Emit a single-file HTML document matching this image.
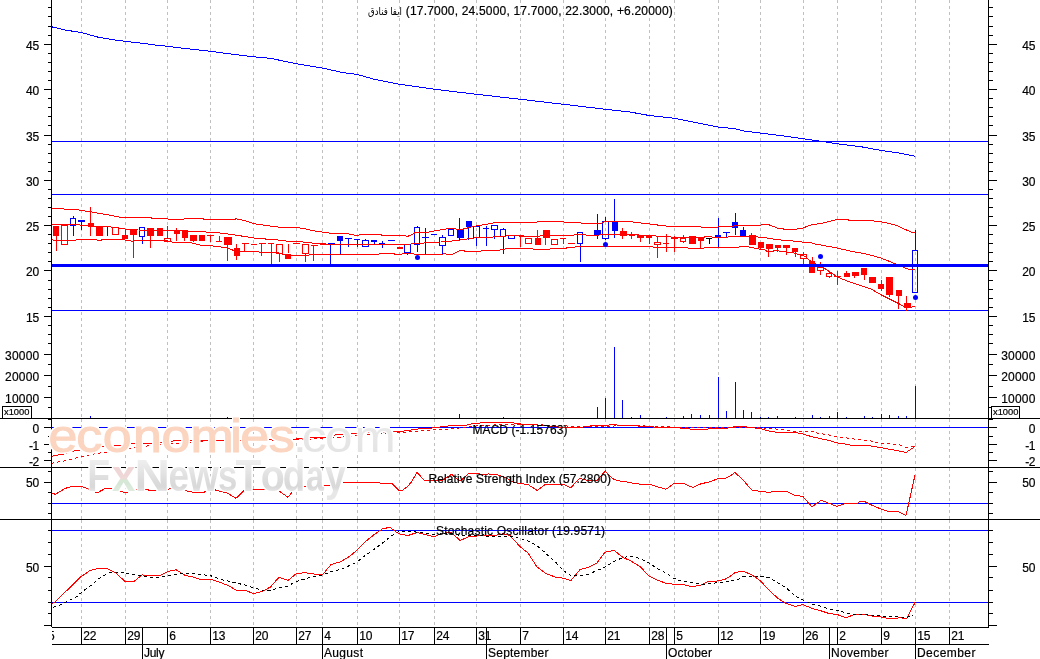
<!DOCTYPE html>
<html><head><meta charset="utf-8"><title>Chart</title>
<style>
html,body{margin:0;padding:0;background:#fff;}
body{width:1040px;height:659px;overflow:hidden;}
svg{display:block;font-family:"Liberation Sans",sans-serif;}
</style></head><body>
<svg width="1040" height="659" viewBox="0 0 1040 659">
<rect x="0" y="0" width="1040" height="659" fill="#ffffff"/>
<g shape-rendering="crispEdges">
<line x1="81.5" y1="0" x2="81.5" y2="418" stroke="#c0c0c0" stroke-width="1" stroke-dasharray="3 3"/>
<line x1="81.5" y1="419" x2="81.5" y2="467" stroke="#c0c0c0" stroke-width="1" stroke-dasharray="3 3"/>
<line x1="81.5" y1="468" x2="81.5" y2="519" stroke="#c0c0c0" stroke-width="1" stroke-dasharray="3 3"/>
<line x1="81.5" y1="520" x2="81.5" y2="626" stroke="#c0c0c0" stroke-width="1" stroke-dasharray="3 3"/>
<line x1="125.5" y1="0" x2="125.5" y2="418" stroke="#c0c0c0" stroke-width="1" stroke-dasharray="3 3"/>
<line x1="125.5" y1="419" x2="125.5" y2="467" stroke="#c0c0c0" stroke-width="1" stroke-dasharray="3 3"/>
<line x1="125.5" y1="468" x2="125.5" y2="519" stroke="#c0c0c0" stroke-width="1" stroke-dasharray="3 3"/>
<line x1="125.5" y1="520" x2="125.5" y2="626" stroke="#c0c0c0" stroke-width="1" stroke-dasharray="3 3"/>
<line x1="167.5" y1="0" x2="167.5" y2="418" stroke="#c0c0c0" stroke-width="1" stroke-dasharray="3 3"/>
<line x1="167.5" y1="419" x2="167.5" y2="467" stroke="#c0c0c0" stroke-width="1" stroke-dasharray="3 3"/>
<line x1="167.5" y1="468" x2="167.5" y2="519" stroke="#c0c0c0" stroke-width="1" stroke-dasharray="3 3"/>
<line x1="167.5" y1="520" x2="167.5" y2="626" stroke="#c0c0c0" stroke-width="1" stroke-dasharray="3 3"/>
<line x1="210.5" y1="0" x2="210.5" y2="418" stroke="#c0c0c0" stroke-width="1" stroke-dasharray="3 3"/>
<line x1="210.5" y1="419" x2="210.5" y2="467" stroke="#c0c0c0" stroke-width="1" stroke-dasharray="3 3"/>
<line x1="210.5" y1="468" x2="210.5" y2="519" stroke="#c0c0c0" stroke-width="1" stroke-dasharray="3 3"/>
<line x1="210.5" y1="520" x2="210.5" y2="626" stroke="#c0c0c0" stroke-width="1" stroke-dasharray="3 3"/>
<line x1="253.5" y1="0" x2="253.5" y2="418" stroke="#c0c0c0" stroke-width="1" stroke-dasharray="3 3"/>
<line x1="253.5" y1="419" x2="253.5" y2="467" stroke="#c0c0c0" stroke-width="1" stroke-dasharray="3 3"/>
<line x1="253.5" y1="468" x2="253.5" y2="519" stroke="#c0c0c0" stroke-width="1" stroke-dasharray="3 3"/>
<line x1="253.5" y1="520" x2="253.5" y2="626" stroke="#c0c0c0" stroke-width="1" stroke-dasharray="3 3"/>
<line x1="296.5" y1="0" x2="296.5" y2="418" stroke="#c0c0c0" stroke-width="1" stroke-dasharray="3 3"/>
<line x1="296.5" y1="419" x2="296.5" y2="467" stroke="#c0c0c0" stroke-width="1" stroke-dasharray="3 3"/>
<line x1="296.5" y1="468" x2="296.5" y2="519" stroke="#c0c0c0" stroke-width="1" stroke-dasharray="3 3"/>
<line x1="296.5" y1="520" x2="296.5" y2="626" stroke="#c0c0c0" stroke-width="1" stroke-dasharray="3 3"/>
<line x1="322.5" y1="0" x2="322.5" y2="418" stroke="#c0c0c0" stroke-width="1" stroke-dasharray="3 3"/>
<line x1="322.5" y1="419" x2="322.5" y2="467" stroke="#c0c0c0" stroke-width="1" stroke-dasharray="3 3"/>
<line x1="322.5" y1="468" x2="322.5" y2="519" stroke="#c0c0c0" stroke-width="1" stroke-dasharray="3 3"/>
<line x1="322.5" y1="520" x2="322.5" y2="626" stroke="#c0c0c0" stroke-width="1" stroke-dasharray="3 3"/>
<line x1="357.5" y1="0" x2="357.5" y2="418" stroke="#c0c0c0" stroke-width="1" stroke-dasharray="3 3"/>
<line x1="357.5" y1="419" x2="357.5" y2="467" stroke="#c0c0c0" stroke-width="1" stroke-dasharray="3 3"/>
<line x1="357.5" y1="468" x2="357.5" y2="519" stroke="#c0c0c0" stroke-width="1" stroke-dasharray="3 3"/>
<line x1="357.5" y1="520" x2="357.5" y2="626" stroke="#c0c0c0" stroke-width="1" stroke-dasharray="3 3"/>
<line x1="399.5" y1="0" x2="399.5" y2="418" stroke="#c0c0c0" stroke-width="1" stroke-dasharray="3 3"/>
<line x1="399.5" y1="419" x2="399.5" y2="467" stroke="#c0c0c0" stroke-width="1" stroke-dasharray="3 3"/>
<line x1="399.5" y1="468" x2="399.5" y2="519" stroke="#c0c0c0" stroke-width="1" stroke-dasharray="3 3"/>
<line x1="399.5" y1="520" x2="399.5" y2="626" stroke="#c0c0c0" stroke-width="1" stroke-dasharray="3 3"/>
<line x1="434.5" y1="0" x2="434.5" y2="418" stroke="#c0c0c0" stroke-width="1" stroke-dasharray="3 3"/>
<line x1="434.5" y1="419" x2="434.5" y2="467" stroke="#c0c0c0" stroke-width="1" stroke-dasharray="3 3"/>
<line x1="434.5" y1="468" x2="434.5" y2="519" stroke="#c0c0c0" stroke-width="1" stroke-dasharray="3 3"/>
<line x1="434.5" y1="520" x2="434.5" y2="626" stroke="#c0c0c0" stroke-width="1" stroke-dasharray="3 3"/>
<line x1="476.5" y1="0" x2="476.5" y2="418" stroke="#c0c0c0" stroke-width="1" stroke-dasharray="3 3"/>
<line x1="476.5" y1="419" x2="476.5" y2="467" stroke="#c0c0c0" stroke-width="1" stroke-dasharray="3 3"/>
<line x1="476.5" y1="468" x2="476.5" y2="519" stroke="#c0c0c0" stroke-width="1" stroke-dasharray="3 3"/>
<line x1="476.5" y1="520" x2="476.5" y2="626" stroke="#c0c0c0" stroke-width="1" stroke-dasharray="3 3"/>
<line x1="520.5" y1="0" x2="520.5" y2="418" stroke="#c0c0c0" stroke-width="1" stroke-dasharray="3 3"/>
<line x1="520.5" y1="419" x2="520.5" y2="467" stroke="#c0c0c0" stroke-width="1" stroke-dasharray="3 3"/>
<line x1="520.5" y1="468" x2="520.5" y2="519" stroke="#c0c0c0" stroke-width="1" stroke-dasharray="3 3"/>
<line x1="520.5" y1="520" x2="520.5" y2="626" stroke="#c0c0c0" stroke-width="1" stroke-dasharray="3 3"/>
<line x1="563.5" y1="0" x2="563.5" y2="418" stroke="#c0c0c0" stroke-width="1" stroke-dasharray="3 3"/>
<line x1="563.5" y1="419" x2="563.5" y2="467" stroke="#c0c0c0" stroke-width="1" stroke-dasharray="3 3"/>
<line x1="563.5" y1="468" x2="563.5" y2="519" stroke="#c0c0c0" stroke-width="1" stroke-dasharray="3 3"/>
<line x1="563.5" y1="520" x2="563.5" y2="626" stroke="#c0c0c0" stroke-width="1" stroke-dasharray="3 3"/>
<line x1="605.5" y1="0" x2="605.5" y2="418" stroke="#c0c0c0" stroke-width="1" stroke-dasharray="3 3"/>
<line x1="605.5" y1="419" x2="605.5" y2="467" stroke="#c0c0c0" stroke-width="1" stroke-dasharray="3 3"/>
<line x1="605.5" y1="468" x2="605.5" y2="519" stroke="#c0c0c0" stroke-width="1" stroke-dasharray="3 3"/>
<line x1="605.5" y1="520" x2="605.5" y2="626" stroke="#c0c0c0" stroke-width="1" stroke-dasharray="3 3"/>
<line x1="649.5" y1="0" x2="649.5" y2="418" stroke="#c0c0c0" stroke-width="1" stroke-dasharray="3 3"/>
<line x1="649.5" y1="419" x2="649.5" y2="467" stroke="#c0c0c0" stroke-width="1" stroke-dasharray="3 3"/>
<line x1="649.5" y1="468" x2="649.5" y2="519" stroke="#c0c0c0" stroke-width="1" stroke-dasharray="3 3"/>
<line x1="649.5" y1="520" x2="649.5" y2="626" stroke="#c0c0c0" stroke-width="1" stroke-dasharray="3 3"/>
<line x1="674.5" y1="0" x2="674.5" y2="418" stroke="#c0c0c0" stroke-width="1" stroke-dasharray="3 3"/>
<line x1="674.5" y1="419" x2="674.5" y2="467" stroke="#c0c0c0" stroke-width="1" stroke-dasharray="3 3"/>
<line x1="674.5" y1="468" x2="674.5" y2="519" stroke="#c0c0c0" stroke-width="1" stroke-dasharray="3 3"/>
<line x1="674.5" y1="520" x2="674.5" y2="626" stroke="#c0c0c0" stroke-width="1" stroke-dasharray="3 3"/>
<line x1="718.5" y1="0" x2="718.5" y2="418" stroke="#c0c0c0" stroke-width="1" stroke-dasharray="3 3"/>
<line x1="718.5" y1="419" x2="718.5" y2="467" stroke="#c0c0c0" stroke-width="1" stroke-dasharray="3 3"/>
<line x1="718.5" y1="468" x2="718.5" y2="519" stroke="#c0c0c0" stroke-width="1" stroke-dasharray="3 3"/>
<line x1="718.5" y1="520" x2="718.5" y2="626" stroke="#c0c0c0" stroke-width="1" stroke-dasharray="3 3"/>
<line x1="760.5" y1="0" x2="760.5" y2="418" stroke="#c0c0c0" stroke-width="1" stroke-dasharray="3 3"/>
<line x1="760.5" y1="419" x2="760.5" y2="467" stroke="#c0c0c0" stroke-width="1" stroke-dasharray="3 3"/>
<line x1="760.5" y1="468" x2="760.5" y2="519" stroke="#c0c0c0" stroke-width="1" stroke-dasharray="3 3"/>
<line x1="760.5" y1="520" x2="760.5" y2="626" stroke="#c0c0c0" stroke-width="1" stroke-dasharray="3 3"/>
<line x1="803.5" y1="0" x2="803.5" y2="418" stroke="#c0c0c0" stroke-width="1" stroke-dasharray="3 3"/>
<line x1="803.5" y1="419" x2="803.5" y2="467" stroke="#c0c0c0" stroke-width="1" stroke-dasharray="3 3"/>
<line x1="803.5" y1="468" x2="803.5" y2="519" stroke="#c0c0c0" stroke-width="1" stroke-dasharray="3 3"/>
<line x1="803.5" y1="520" x2="803.5" y2="626" stroke="#c0c0c0" stroke-width="1" stroke-dasharray="3 3"/>
<line x1="837.5" y1="0" x2="837.5" y2="418" stroke="#c0c0c0" stroke-width="1" stroke-dasharray="3 3"/>
<line x1="837.5" y1="419" x2="837.5" y2="467" stroke="#c0c0c0" stroke-width="1" stroke-dasharray="3 3"/>
<line x1="837.5" y1="468" x2="837.5" y2="519" stroke="#c0c0c0" stroke-width="1" stroke-dasharray="3 3"/>
<line x1="837.5" y1="520" x2="837.5" y2="626" stroke="#c0c0c0" stroke-width="1" stroke-dasharray="3 3"/>
<line x1="881.5" y1="0" x2="881.5" y2="418" stroke="#c0c0c0" stroke-width="1" stroke-dasharray="3 3"/>
<line x1="881.5" y1="419" x2="881.5" y2="467" stroke="#c0c0c0" stroke-width="1" stroke-dasharray="3 3"/>
<line x1="881.5" y1="468" x2="881.5" y2="519" stroke="#c0c0c0" stroke-width="1" stroke-dasharray="3 3"/>
<line x1="881.5" y1="520" x2="881.5" y2="626" stroke="#c0c0c0" stroke-width="1" stroke-dasharray="3 3"/>
<line x1="915.5" y1="0" x2="915.5" y2="418" stroke="#c0c0c0" stroke-width="1" stroke-dasharray="3 3"/>
<line x1="915.5" y1="419" x2="915.5" y2="467" stroke="#c0c0c0" stroke-width="1" stroke-dasharray="3 3"/>
<line x1="915.5" y1="468" x2="915.5" y2="519" stroke="#c0c0c0" stroke-width="1" stroke-dasharray="3 3"/>
<line x1="915.5" y1="520" x2="915.5" y2="626" stroke="#c0c0c0" stroke-width="1" stroke-dasharray="3 3"/>
<line x1="949.5" y1="0" x2="949.5" y2="418" stroke="#c0c0c0" stroke-width="1" stroke-dasharray="3 3"/>
<line x1="949.5" y1="419" x2="949.5" y2="467" stroke="#c0c0c0" stroke-width="1" stroke-dasharray="3 3"/>
<line x1="949.5" y1="468" x2="949.5" y2="519" stroke="#c0c0c0" stroke-width="1" stroke-dasharray="3 3"/>
<line x1="949.5" y1="520" x2="949.5" y2="626" stroke="#c0c0c0" stroke-width="1" stroke-dasharray="3 3"/>
<rect x="90" y="416" width="1" height="2" fill="#0000ff"/>
<rect x="227" y="417" width="1" height="1" fill="#0000ff"/>
<rect x="459" y="414" width="1" height="4" fill="#0000ff"/>
<rect x="503" y="417" width="1" height="1" fill="#0000ff"/>
<rect x="597" y="407" width="1" height="11" fill="#0000ff"/>
<rect x="605" y="398" width="1" height="20" fill="#0000ff"/>
<rect x="614" y="347" width="1" height="71" fill="#0000ff"/>
<rect x="622" y="400" width="1" height="18" fill="#0000ff"/>
<rect x="631" y="417" width="1" height="1" fill="#0000ff"/>
<rect x="640" y="415" width="1" height="3" fill="#0000ff"/>
<rect x="666" y="417" width="1" height="1" fill="#0000ff"/>
<rect x="683" y="416" width="1" height="2" fill="#0000ff"/>
<rect x="691" y="414" width="1" height="4" fill="#0000ff"/>
<rect x="700" y="415" width="1" height="3" fill="#0000ff"/>
<rect x="709" y="415" width="1" height="3" fill="#0000ff"/>
<rect x="718" y="377" width="1" height="41" fill="#0000ff"/>
<rect x="726" y="411" width="1" height="7" fill="#0000ff"/>
<rect x="735" y="382" width="1" height="36" fill="#0000ff"/>
<rect x="743" y="410" width="1" height="8" fill="#0000ff"/>
<rect x="751" y="412" width="1" height="6" fill="#0000ff"/>
<rect x="760" y="417" width="1" height="1" fill="#0000ff"/>
<rect x="768" y="417" width="1" height="1" fill="#0000ff"/>
<rect x="777" y="416" width="1" height="2" fill="#0000ff"/>
<rect x="795" y="417" width="1" height="1" fill="#0000ff"/>
<rect x="812" y="415" width="1" height="3" fill="#0000ff"/>
<rect x="820" y="417" width="1" height="1" fill="#0000ff"/>
<rect x="829" y="416" width="1" height="2" fill="#0000ff"/>
<rect x="837" y="412" width="1" height="6" fill="#0000ff"/>
<rect x="846" y="417" width="1" height="1" fill="#0000ff"/>
<rect x="864" y="416" width="1" height="2" fill="#0000ff"/>
<rect x="872" y="417" width="1" height="1" fill="#0000ff"/>
<rect x="881" y="414" width="1" height="4" fill="#0000ff"/>
<rect x="889" y="415" width="1" height="3" fill="#0000ff"/>
<rect x="898" y="416" width="1" height="2" fill="#0000ff"/>
<rect x="906" y="416" width="1" height="2" fill="#0000ff"/>
<rect x="915" y="386" width="1" height="32" fill="#0000ff"/>
<rect x="52" y="141" width="936" height="1" fill="#0000ff"/>
<rect x="52" y="194" width="936" height="1" fill="#0000ff"/>
<rect x="52" y="310" width="936" height="1" fill="#0000ff"/>
<rect x="52" y="427" width="936" height="1" fill="#0000ff"/>
<rect x="52" y="503" width="936" height="1" fill="#0000ff"/>
<rect x="52" y="530" width="936" height="1" fill="#0000ff"/>
<rect x="52" y="602" width="936" height="1" fill="#0000ff"/>
</g>
<g shape-rendering="crispEdges">
<rect x="56" y="226" width="1" height="25" fill="#ff0000"/>
<rect x="53" y="226" width="6" height="10" fill="#ff0000"/>
<rect x="61.5" y="225.5" width="6" height="19" fill="none" stroke="#ff0000" stroke-width="1"/>
<rect x="73" y="216" width="1" height="3" fill="#0000ff"/>
<rect x="73" y="225" width="1" height="11" fill="#0000ff"/>
<rect x="70.5" y="218.5" width="5" height="7" fill="none" stroke="#0000ff" stroke-width="1"/>
<rect x="81" y="220" width="1" height="10" fill="#0000ff"/>
<rect x="78" y="220" width="7" height="2" fill="#0000ff"/>
<rect x="90" y="207" width="1" height="29" fill="#ff0000"/>
<rect x="88" y="223" width="6" height="4" fill="#ff0000"/>
<rect x="96" y="226" width="7" height="10" fill="#ff0000"/>
<rect x="107" y="226" width="1" height="10" fill="#0000ff"/>
<rect x="104" y="226" width="6" height="1" fill="#0000ff"/>
<rect x="112.5" y="227.5" width="6" height="7" fill="none" stroke="#ff0000" stroke-width="1"/>
<rect x="125" y="229" width="1" height="10" fill="#ff0000"/>
<rect x="122" y="235" width="6" height="4" fill="#ff0000"/>
<rect x="133" y="229" width="1" height="29" fill="#ff0000"/>
<rect x="130" y="229" width="7" height="6" fill="#ff0000"/>
<rect x="142" y="236" width="1" height="8" fill="#0000ff"/>
<rect x="139.5" y="227.5" width="5" height="9" fill="none" stroke="#0000ff" stroke-width="1"/>
<rect x="150" y="228" width="1" height="20" fill="#ff0000"/>
<rect x="147" y="228" width="7" height="8" fill="#ff0000"/>
<rect x="157" y="228" width="6" height="8" fill="#ff0000"/>
<rect x="167" y="226" width="1" height="13" fill="#ff0000"/>
<rect x="164.5" y="238.5" width="6" height="3" fill="none" stroke="#ff0000" stroke-width="1"/>
<rect x="176" y="228" width="1" height="13" fill="#ff0000"/>
<rect x="174" y="230" width="6" height="4" fill="#ff0000"/>
<rect x="184" y="231" width="1" height="10" fill="#ff0000"/>
<rect x="182" y="231" width="6" height="7" fill="#ff0000"/>
<rect x="193" y="235" width="1" height="7" fill="#ff0000"/>
<rect x="190" y="235" width="7" height="6" fill="#ff0000"/>
<rect x="199" y="235" width="6" height="6" fill="#ff0000"/>
<rect x="210" y="235" width="1" height="7" fill="#ff0000"/>
<rect x="207" y="235" width="7" height="1" fill="#ff0000"/>
<rect x="219" y="236" width="1" height="6" fill="#ff0000"/>
<rect x="216" y="241" width="6" height="1" fill="#ff0000"/>
<rect x="227" y="237" width="1" height="24" fill="#ff0000"/>
<rect x="224" y="237" width="8" height="8" fill="#ff0000"/>
<rect x="236" y="244" width="1" height="16" fill="#ff0000"/>
<rect x="234" y="248" width="6" height="8" fill="#ff0000"/>
<rect x="244" y="243" width="1" height="9" fill="#ff0000"/>
<rect x="242" y="243" width="7" height="1" fill="#ff0000"/>
<rect x="251" y="244" width="6" height="1" fill="#ff0000"/>
<rect x="261" y="243" width="1" height="13" fill="#ff0000"/>
<rect x="259" y="243" width="7" height="1" fill="#ff0000"/>
<rect x="271" y="243" width="1" height="22" fill="#ff0000"/>
<rect x="268" y="243" width="6" height="1" fill="#ff0000"/>
<rect x="279" y="253" width="1" height="9" fill="#ff0000"/>
<rect x="276.5" y="244.5" width="6" height="9" fill="none" stroke="#ff0000" stroke-width="1"/>
<rect x="288" y="244" width="1" height="9" fill="#ff0000"/>
<rect x="285" y="254" width="6" height="5" fill="#ff0000"/>
<rect x="293" y="243" width="7" height="1" fill="#ff0000"/>
<rect x="305" y="253" width="1" height="9" fill="#ff0000"/>
<rect x="302.5" y="244.5" width="6" height="9" fill="none" stroke="#ff0000" stroke-width="1"/>
<rect x="313" y="245" width="1" height="16" fill="#ff0000"/>
<rect x="311" y="245" width="7" height="1" fill="#ff0000"/>
<rect x="320" y="243" width="6" height="2" fill="#ff0000"/>
<rect x="330" y="243" width="1" height="22" fill="#0000ff"/>
<rect x="328" y="243" width="7" height="1" fill="#0000ff"/>
<rect x="340" y="236" width="1" height="19" fill="#0000ff"/>
<rect x="337" y="236" width="6" height="5" fill="#0000ff"/>
<rect x="348" y="238" width="1" height="9" fill="#0000ff"/>
<rect x="345" y="238" width="7" height="1" fill="#0000ff"/>
<rect x="357" y="239" width="1" height="8" fill="#0000ff"/>
<rect x="354" y="239" width="6" height="1" fill="#0000ff"/>
<rect x="365" y="239" width="1" height="2" fill="#0000ff"/>
<rect x="362.5" y="240.5" width="6" height="6" fill="none" stroke="#0000ff" stroke-width="1"/>
<rect x="374" y="240" width="1" height="5" fill="#0000ff"/>
<rect x="371" y="240" width="6" height="2" fill="#0000ff"/>
<rect x="382" y="241" width="1" height="7" fill="#0000ff"/>
<rect x="379" y="243" width="6" height="1" fill="#0000ff"/>
<rect x="388" y="240" width="7" height="1" fill="#0000ff"/>
<rect x="397" y="247" width="6" height="2" fill="#ff0000"/>
<rect x="407" y="252" width="1" height="3" fill="#0000ff"/>
<rect x="404.5" y="244.5" width="6" height="8" fill="none" stroke="#0000ff" stroke-width="1"/>
<rect x="417" y="226" width="1" height="2" fill="#0000ff"/>
<rect x="417" y="244" width="1" height="8" fill="#0000ff"/>
<rect x="414.5" y="227.5" width="5" height="17" fill="none" stroke="#0000ff" stroke-width="1"/>
<rect x="425" y="228" width="1" height="27" fill="#0000ff"/>
<rect x="422" y="237" width="7" height="1" fill="#0000ff"/>
<rect x="431" y="234" width="6" height="1" fill="#0000ff"/>
<rect x="442" y="235" width="1" height="3" fill="#0000ff"/>
<rect x="442" y="245" width="1" height="10" fill="#0000ff"/>
<rect x="439.5" y="237.5" width="6" height="8" fill="none" stroke="#0000ff" stroke-width="1"/>
<rect x="448.5" y="229.5" width="5" height="6" fill="none" stroke="#0000ff" stroke-width="1"/>
<rect x="459" y="218" width="1" height="22" fill="#0000ff"/>
<rect x="457" y="230" width="7" height="8" fill="#0000ff"/>
<rect x="468" y="221" width="1" height="19" fill="#0000ff"/>
<rect x="466" y="221" width="6" height="6" fill="#0000ff"/>
<rect x="476" y="237" width="1" height="9" fill="#0000ff"/>
<rect x="473.5" y="226.5" width="6" height="11" fill="none" stroke="#0000ff" stroke-width="1"/>
<rect x="486" y="226" width="1" height="20" fill="#0000ff"/>
<rect x="483" y="228" width="6" height="1" fill="#0000ff"/>
<rect x="494" y="229" width="1" height="10" fill="#0000ff"/>
<rect x="491.5" y="225.5" width="6" height="4" fill="none" stroke="#0000ff" stroke-width="1"/>
<rect x="503" y="228" width="1" height="2" fill="#0000ff"/>
<rect x="503" y="236" width="1" height="18" fill="#0000ff"/>
<rect x="500.5" y="229.5" width="5" height="7" fill="none" stroke="#0000ff" stroke-width="1"/>
<rect x="508.5" y="235.5" width="6" height="3" fill="none" stroke="#0000ff" stroke-width="1"/>
<rect x="520" y="235" width="1" height="12" fill="#ff0000"/>
<rect x="517" y="235" width="7" height="1" fill="#ff0000"/>
<rect x="525.5" y="238.5" width="6" height="5" fill="none" stroke="#ff0000" stroke-width="1"/>
<rect x="537" y="230" width="1" height="15" fill="#ff0000"/>
<rect x="535" y="238" width="6" height="7" fill="#ff0000"/>
<rect x="545" y="230" width="1" height="15" fill="#ff0000"/>
<rect x="543" y="230" width="7" height="8" fill="#ff0000"/>
<rect x="551.5" y="239.5" width="6" height="5" fill="none" stroke="#ff0000" stroke-width="1"/>
<rect x="563" y="238" width="1" height="6" fill="#ff0000"/>
<rect x="560" y="238" width="6" height="1" fill="#ff0000"/>
<rect x="568" y="243" width="7" height="1" fill="#ff0000"/>
<rect x="580" y="243" width="1" height="19" fill="#0000ff"/>
<rect x="577.5" y="232.5" width="5" height="11" fill="none" stroke="#0000ff" stroke-width="1"/>
<rect x="597" y="214" width="1" height="25" fill="#0000ff"/>
<rect x="594" y="230" width="7" height="5" fill="#0000ff"/>
<rect x="605" y="217" width="1" height="5" fill="#0000ff"/>
<rect x="605" y="238" width="1" height="2" fill="#0000ff"/>
<rect x="602.5" y="221.5" width="6" height="17" fill="none" stroke="#0000ff" stroke-width="1"/>
<rect x="614" y="199" width="1" height="39" fill="#0000ff"/>
<rect x="612" y="222" width="6" height="9" fill="#0000ff"/>
<rect x="622" y="228" width="1" height="11" fill="#ff0000"/>
<rect x="620" y="231" width="7" height="5" fill="#ff0000"/>
<rect x="631" y="232" width="1" height="7" fill="#ff0000"/>
<rect x="629" y="234" width="6" height="2" fill="#ff0000"/>
<rect x="640" y="235" width="1" height="7" fill="#ff0000"/>
<rect x="637" y="235" width="7" height="3" fill="#ff0000"/>
<rect x="649" y="236" width="1" height="8" fill="#ff0000"/>
<rect x="646" y="236" width="6" height="2" fill="#ff0000"/>
<rect x="657" y="237" width="1" height="6" fill="#ff0000"/>
<rect x="657" y="244" width="1" height="14" fill="#ff0000"/>
<rect x="654.5" y="242.5" width="6" height="2" fill="none" stroke="#ff0000" stroke-width="1"/>
<rect x="666" y="234" width="1" height="18" fill="#ff0000"/>
<rect x="663" y="243" width="6" height="1" fill="#ff0000"/>
<rect x="674" y="236" width="1" height="16" fill="#ff0000"/>
<rect x="671" y="237" width="7" height="2" fill="#ff0000"/>
<rect x="683" y="235" width="1" height="4" fill="#ff0000"/>
<rect x="683" y="241" width="1" height="2" fill="#ff0000"/>
<rect x="680.5" y="238.5" width="5" height="3" fill="none" stroke="#ff0000" stroke-width="1"/>
<rect x="689" y="236" width="7" height="8" fill="#ff0000"/>
<rect x="700" y="238" width="1" height="11" fill="#ff0000"/>
<rect x="698" y="238" width="6" height="3" fill="#ff0000"/>
<rect x="709" y="238" width="1" height="6" fill="#000000"/>
<rect x="706" y="238" width="6" height="1" fill="#000000"/>
<rect x="718" y="218" width="1" height="29" fill="#0000ff"/>
<rect x="715" y="235" width="6" height="2" fill="#0000ff"/>
<rect x="726" y="232" width="1" height="6" fill="#0000ff"/>
<rect x="723" y="232" width="7" height="1" fill="#0000ff"/>
<rect x="735" y="213" width="1" height="22" fill="#0000ff"/>
<rect x="732" y="222" width="6" height="6" fill="#0000ff"/>
<rect x="743" y="227" width="1" height="9" fill="#0000ff"/>
<rect x="740" y="230" width="6" height="6" fill="#0000ff"/>
<rect x="751" y="233" width="1" height="12" fill="#ff0000"/>
<rect x="749" y="235" width="7" height="10" fill="#ff0000"/>
<rect x="760" y="242" width="1" height="8" fill="#ff0000"/>
<rect x="758" y="242" width="6" height="6" fill="#ff0000"/>
<rect x="768" y="244" width="1" height="13" fill="#ff0000"/>
<rect x="766" y="244" width="7" height="5" fill="#ff0000"/>
<rect x="777" y="245" width="1" height="7" fill="#ff0000"/>
<rect x="775" y="245" width="6" height="3" fill="#ff0000"/>
<rect x="786" y="245" width="1" height="10" fill="#ff0000"/>
<rect x="783" y="245" width="7" height="3" fill="#ff0000"/>
<rect x="795" y="248" width="1" height="9" fill="#ff0000"/>
<rect x="792" y="248" width="6" height="4" fill="#ff0000"/>
<rect x="803" y="252" width="1" height="3" fill="#ff0000"/>
<rect x="803" y="258" width="1" height="7" fill="#ff0000"/>
<rect x="800.5" y="254.5" width="6" height="4" fill="none" stroke="#ff0000" stroke-width="1"/>
<rect x="812" y="257" width="1" height="4" fill="#ff0000"/>
<rect x="809" y="261" width="6" height="12" fill="#ff0000"/>
<rect x="820" y="262" width="1" height="6" fill="#ff0000"/>
<rect x="820" y="270" width="1" height="5" fill="#ff0000"/>
<rect x="817.5" y="267.5" width="6" height="3" fill="none" stroke="#ff0000" stroke-width="1"/>
<rect x="829" y="272" width="1" height="2" fill="#ff0000"/>
<rect x="829" y="276" width="1" height="2" fill="#ff0000"/>
<rect x="826.5" y="273.5" width="5" height="3" fill="none" stroke="#ff0000" stroke-width="1"/>
<rect x="837" y="271" width="1" height="14" fill="#ff0000"/>
<rect x="834" y="276" width="7" height="1" fill="#ff0000"/>
<rect x="846" y="271" width="1" height="6" fill="#ff0000"/>
<rect x="844" y="273" width="6" height="4" fill="#ff0000"/>
<rect x="854" y="272" width="1" height="6" fill="#ff0000"/>
<rect x="852" y="272" width="7" height="4" fill="#ff0000"/>
<rect x="864" y="268" width="1" height="12" fill="#ff0000"/>
<rect x="861" y="268" width="6" height="7" fill="#ff0000"/>
<rect x="869" y="277" width="7" height="6" fill="#ff0000"/>
<rect x="881" y="280" width="1" height="11" fill="#ff0000"/>
<rect x="878" y="284" width="6" height="5" fill="#ff0000"/>
<rect x="889" y="277" width="1" height="20" fill="#ff0000"/>
<rect x="886" y="277" width="7" height="18" fill="#ff0000"/>
<rect x="898" y="290" width="1" height="19" fill="#ff0000"/>
<rect x="896" y="290" width="6" height="6" fill="#ff0000"/>
<rect x="906" y="296" width="1" height="15" fill="#ff0000"/>
<rect x="904" y="303" width="7" height="5" fill="#ff0000"/>
<rect x="915" y="230" width="1" height="21" fill="#0000ff"/>
<rect x="912.5" y="250.5" width="5" height="42" fill="none" stroke="#0000ff" stroke-width="1"/>
<polyline points="52.00,208.60 75.00,209.40 82.50,210.60 91.25,211.90 100.00,213.50 108.75,215.00 118.00,216.90 125.00,217.50 150.00,217.50 153.75,218.75 167.50,218.75 170.00,219.60 183.00,219.40 185.00,218.50 202.50,218.50 204.40,219.40 235.00,219.40 236.25,218.50 238.00,219.40 245.00,220.60 253.75,223.75 262.50,225.00 271.25,226.25 280.00,227.25 296.00,227.50 305.00,228.75 312.50,230.60 322.50,232.10 330.00,233.10 347.50,233.75 357.50,235.60 360.00,234.40 380.00,234.40 382.50,235.40 405.00,235.60 407.00,236.60 411.00,235.00 415.00,232.75 427.50,232.25 436.00,230.60 445.00,229.40 447.50,228.50 455.00,228.50 457.50,230.00 465.00,228.75 472.50,226.50 482.50,225.00 490.00,223.75 495.00,222.50 536.00,222.50 537.50,221.50 562.50,221.50 565.00,222.25 580.00,222.25 582.00,223.40 601.00,223.40 605.00,221.50 632.50,221.50 634.00,222.50 640.00,222.50 642.50,223.40 649.00,223.40 651.00,224.40 656.00,224.40 659.00,225.60 665.00,225.60 667.00,226.50 700.00,226.50 702.50,227.50 717.50,227.50 719.00,226.50 732.50,226.50 735.00,225.60 760.00,225.60 762.00,224.40 768.00,224.40 777.50,228.10 786.00,229.40 795.00,229.40 802.50,228.10 812.50,224.40 820.00,223.75 827.50,221.90 837.50,219.40 847.50,219.40 849.00,220.25 870.00,220.60 881.00,221.75 890.00,223.75 897.50,225.60 905.00,229.40 912.50,232.50 915.40,233.10" fill="none" stroke="#ff0000" stroke-width="1"/>
<polyline points="52.00,224.60 75.00,224.60 87.50,225.60 100.00,226.50 110.00,226.90 120.00,228.10 127.50,229.40 137.50,230.00 170.00,230.40 182.50,230.90 200.00,231.25 207.50,232.25 217.50,232.75 227.50,234.00 237.50,235.40 247.50,236.90 255.00,238.10 270.00,239.40 277.50,240.00 287.50,241.25 302.50,241.90 310.00,242.90 322.50,243.75 327.50,244.40 395.00,244.40 411.00,244.00 420.00,243.50 427.50,242.50 437.50,242.25 450.00,241.25 462.50,239.75 472.50,238.10 482.50,237.50 495.00,236.90 500.00,236.25 515.00,235.60 517.50,235.60 520.00,236.25 572.50,235.60 575.00,234.60 585.00,234.60 587.00,235.40 595.00,235.40 602.50,234.75 625.00,234.00 637.50,234.40 639.00,235.40 655.00,235.40 657.50,236.50 670.00,236.50 672.50,237.50 702.50,237.50 705.00,236.90 727.50,237.25 730.00,236.25 755.00,236.25 760.00,237.50 766.00,237.75 777.50,239.75 790.00,240.60 800.00,241.90 810.00,242.50 815.00,244.00 827.50,246.25 837.50,248.10 847.50,250.40 857.50,252.50 865.00,253.75 872.50,255.60 880.00,257.75 887.50,260.60 895.00,263.75 905.00,267.90 908.75,269.40 915.40,269.40" fill="none" stroke="#ff0000" stroke-width="1"/>
<polyline points="52.00,239.75 55.00,240.40 75.00,240.40 77.00,239.60 96.00,239.60 98.00,240.40 100.50,240.40 102.50,239.60 122.50,239.60 132.50,241.25 137.50,240.60 162.50,240.40 170.00,241.25 173.75,242.50 190.00,242.50 201.25,245.25 210.00,245.60 222.50,247.25 227.50,248.10 232.50,250.00 240.00,251.25 257.50,251.60 260.00,252.50 277.50,252.50 282.50,254.10 287.50,255.00 308.75,255.00 312.50,254.40 377.50,254.40 380.00,253.50 392.50,253.50 396.00,254.40 401.00,254.40 405.00,253.10 410.00,253.10 414.00,254.10 439.00,254.40 445.00,253.75 447.50,254.60 452.50,254.40 460.00,250.40 463.00,250.40 465.00,251.25 480.00,251.25 482.50,250.40 497.50,250.40 507.50,248.50 532.50,248.75 535.00,249.60 549.00,249.60 551.00,248.75 565.00,248.75 567.50,247.50 574.00,247.50 577.50,246.25 640.00,246.50 652.50,246.90 655.00,247.75 687.50,247.75 689.40,248.75 702.50,248.75 705.00,247.50 737.50,247.50 740.00,246.40 747.50,246.70 757.50,248.75 765.00,250.00 768.00,251.90 776.00,250.60 785.00,251.90 792.50,252.50 800.00,255.00 805.00,256.25 810.00,260.60 812.50,261.90 825.00,268.75 832.50,273.75 837.50,276.90 847.50,281.25 857.50,284.40 862.50,286.25 871.50,289.20 881.50,295.00 892.30,300.40 898.50,303.50 903.80,306.50 906.00,307.70 911.50,307.70 912.70,306.20 915.40,306.20" fill="none" stroke="#ff0000" stroke-width="1"/>
<polyline points="51.50,26.75 65.00,30.00 81.25,32.50 97.50,37.00 115.00,40.00 125.00,41.25 140.00,43.00 155.00,45.00 167.00,46.25 187.50,48.75 210.00,51.25 225.00,53.25 253.00,56.75 270.00,58.25 296.75,63.75 322.25,68.00 342.50,72.50 357.25,74.50 375.00,79.50 399.25,84.25 434.25,89.25 476.25,94.25 520.00,99.25 563.25,104.25 605.25,109.25 630.00,112.00 649.25,115.50 674.25,118.25 695.00,122.50 718.25,127.00 735.00,128.75 745.00,131.25 760.25,133.00 780.00,135.50 803.75,138.75 837.25,143.75 862.50,147.00 881.25,150.50 898.75,153.00 915.25,156.25" fill="none" stroke="#0000ff" stroke-width="1"/>
</g>
<circle cx="417.5" cy="257.5" r="2.5" fill="#0000ff"/>
<circle cx="605.5" cy="244.5" r="2.5" fill="#0000ff"/>
<circle cx="820.5" cy="256.5" r="2.5" fill="#0000ff"/>
<circle cx="915.5" cy="297.5" r="2.5" fill="#0000ff"/>
<g shape-rendering="crispEdges">
<rect x="52" y="264" width="936" height="3" fill="#0000ff"/>
<polyline points="51.50,456.25 65.00,453.75 75.00,450.50 81.00,450.00 112.50,445.00 122.50,445.00 140.00,443.00 155.00,443.00 170.00,441.25 180.00,440.50 190.00,440.50 212.50,440.00 222.50,440.00 232.50,440.75 260.00,439.50 293.75,439.25 307.50,438.00 325.00,437.50 335.00,435.00 347.50,434.25 360.00,433.25 370.00,432.50 390.00,432.00 401.00,431.50 416.50,429.10 432.00,428.00 450.50,425.70 466.00,425.30 472.00,423.70 484.50,422.60 512.50,422.60 517.00,423.90 530.00,424.30 545.00,425.80 563.00,427.50 580.00,427.50 590.00,426.00 605.00,425.50 613.00,424.50 620.00,425.30 632.00,425.30 640.00,426.20 650.00,426.20 657.00,427.80 680.00,428.00 690.00,429.00 708.00,429.00 718.00,428.30 727.00,428.30 735.00,426.50 743.00,426.50 752.00,427.70 760.00,428.50 769.00,431.00 778.00,432.50 795.00,432.50 803.00,434.00 812.00,436.80 827.00,440.00 837.00,442.80 845.00,444.00 853.00,445.50 869.00,445.50 872.00,446.30 881.00,447.50 889.00,449.20 898.00,450.70 906.00,452.50 915.00,446.50" fill="none" stroke="#ff0000" stroke-width="1"/>
<polyline points="51.50,463.25 65.00,460.75 81.25,456.75 95.00,453.75 107.50,452.00 125.00,449.50 137.50,447.50 150.00,445.50 170.00,443.75 187.50,443.00 200.00,441.25 220.00,440.00 240.00,440.75 292.50,440.00 310.00,439.25 335.00,437.50 350.00,436.25 365.00,434.50 377.00,434.30 385.50,433.50 401.00,432.70 416.50,431.20 432.00,430.00 447.50,429.10 463.00,427.60 478.50,425.70 494.00,425.00 509.50,424.50 530.00,424.50 563.00,425.80 580.00,426.70 605.00,426.20 640.00,425.50 650.00,426.50 670.00,427.00 690.00,428.00 718.00,427.80 735.00,427.00 752.00,427.50 769.00,428.20 780.00,429.50 787.00,430.50 795.00,431.50 812.00,431.50 818.00,433.30 827.00,434.50 837.00,436.80 845.00,437.80 850.00,438.30 858.00,439.70 869.00,440.50 876.00,442.30 881.00,443.00 898.00,444.50 903.00,446.00 906.00,447.30 915.00,446.30" fill="none" stroke="#ff0000" stroke-width="1" stroke-dasharray="3 3"/>
<polyline points="51.50,493.40 55.50,494.20 65.00,488.50 72.00,486.30 81.00,486.30 87.00,488.30 97.00,493.00 105.00,488.60 113.00,488.60 119.00,490.50 125.00,492.80 130.00,491.50 137.00,489.00 146.00,489.50 150.00,490.30 158.00,490.30 165.00,489.80 172.00,488.50 185.00,490.50 193.00,492.30 204.00,492.30 210.00,488.50 224.00,492.30 227.00,493.00 236.00,498.30 244.00,490.50 253.00,489.70 262.00,489.20 277.00,489.50 288.00,497.30 293.00,491.00 302.00,485.50 305.00,486.50 324.00,485.70 329.00,485.20 342.00,482.00 378.00,482.50 382.50,483.60 384.00,483.00 391.50,483.00 399.00,490.50 402.00,490.50 407.50,486.50 411.50,482.00 417.00,472.30 424.20,480.40 434.00,480.40 442.60,480.40 451.50,474.20 460.00,481.20 469.20,473.10 476.50,473.10 482.00,474.80 488.00,474.00 496.00,474.20 505.00,477.40 512.50,481.70 518.70,483.60 527.50,484.30 530.00,485.80 537.40,490.50 545.00,484.50 563.30,484.20 570.70,487.90 579.30,478.40 588.00,480.50 597.00,480.60 605.30,471.00 613.00,478.80 617.40,480.60 625.00,481.70 633.00,483.20 641.00,484.20 651.00,484.50 658.00,487.00 666.00,489.20 674.00,483.50 684.00,483.50 690.00,486.30 693.00,487.30 701.00,483.80 709.00,482.00 718.00,478.70 725.50,478.30 731.00,475.50 735.00,472.50 743.00,480.00 752.00,490.30 760.00,491.20 769.00,492.50 773.00,491.30 787.00,491.30 794.00,495.00 803.00,496.50 812.00,507.00 821.00,500.30 827.00,502.50 837.00,506.50 845.00,503.50 858.00,503.00 860.00,501.50 864.50,501.50 869.50,504.00 872.00,505.30 881.00,509.00 889.00,511.50 898.00,511.50 906.00,515.50 915.00,475.00" fill="none" stroke="#ff0000" stroke-width="1"/>
<polyline points="52.00,603.50 55.00,602.00 81.00,576.70 90.00,570.50 99.00,568.30 107.00,568.30 116.00,573.00 125.00,581.50 134.00,581.50 142.50,574.50 144.00,575.50 160.00,575.50 168.00,571.50 176.00,569.70 185.00,575.30 193.00,577.00 200.00,579.30 211.00,579.50 220.00,582.30 228.00,585.50 236.50,590.30 245.00,590.30 253.50,593.50 262.00,591.50 270.50,587.00 279.00,577.20 288.00,580.50 296.50,573.50 305.00,572.70 313.50,574.00 322.50,574.80 331.00,564.50 340.00,562.00 348.00,557.50 357.00,550.30 365.50,541.50 374.00,534.70 382.50,528.80 390.00,527.30 396.00,532.00 401.00,534.50 408.00,535.50 417.00,532.50 425.00,534.50 434.00,536.70 442.00,533.50 451.00,532.00 460.00,540.50 468.00,537.00 477.00,536.00 485.00,535.00 494.00,535.70 503.00,533.80 510.00,535.50 520.00,546.50 528.00,553.00 537.00,567.00 546.00,573.50 555.00,577.00 560.00,577.30 571.00,580.50 580.00,569.50 588.00,567.50 597.00,563.00 605.00,552.30 614.00,550.30 623.00,557.50 631.00,561.00 640.00,566.50 649.00,576.00 657.00,580.00 666.00,583.30 674.00,584.30 683.00,584.50 691.50,586.50 700.00,585.50 708.00,581.70 717.00,581.00 725.00,579.30 730.00,576.50 735.00,572.50 743.00,571.00 752.00,575.00 760.00,580.50 769.00,590.00 778.00,598.50 786.00,603.30 795.00,606.50 803.00,604.50 812.00,608.50 820.00,610.50 829.00,613.50 837.00,614.50 846.00,617.70 854.00,614.70 865.00,614.50 872.00,616.00 881.00,617.00 889.00,618.50 898.00,618.00 901.00,617.00 903.00,618.30 907.00,618.00 915.00,602.50" fill="none" stroke="#ff0000" stroke-width="1"/>
<polyline points="53.00,607.50 60.00,605.00 70.00,600.00 75.00,598.00 85.00,589.50 91.00,585.50 101.00,577.00 110.00,572.70 119.00,572.30 127.00,573.20 135.00,575.00 143.00,575.80 152.00,577.50 160.00,577.50 168.00,575.50 181.00,573.50 195.00,574.00 210.00,575.50 217.00,578.00 220.00,579.50 228.00,581.00 236.00,583.00 245.00,585.00 253.00,587.50 262.00,590.00 270.00,590.50 279.00,588.00 288.00,586.00 296.00,581.50 305.00,579.00 313.00,576.30 322.00,575.30 331.00,571.50 340.00,569.50 348.00,566.30 357.00,562.00 365.00,555.50 374.00,549.50 382.00,543.50 390.00,537.00 399.00,531.50 408.00,531.00 420.00,532.50 430.00,534.00 440.00,534.00 450.00,533.00 460.00,535.50 468.00,536.00 480.00,535.80 490.00,536.50 500.00,536.00 510.00,536.50 521.00,538.50 528.00,541.00 537.00,545.50 546.00,553.50 555.00,561.50 563.00,570.50 571.00,575.50 580.00,575.50 588.00,574.30 597.00,570.50 605.00,567.00 614.00,561.50 623.00,557.50 631.00,556.30 640.00,558.50 649.00,563.00 657.00,568.50 666.00,573.20 674.00,578.50 683.00,581.50 691.00,582.30 700.00,584.00 708.00,584.00 717.00,582.70 725.00,582.50 730.00,580.50 737.00,580.00 743.00,576.70 752.00,576.00 760.00,576.00 769.00,577.50 778.00,583.00 786.00,587.50 795.00,596.00 803.00,600.00 812.00,604.50 820.00,606.00 829.00,609.00 837.00,610.50 846.00,612.80 854.00,614.50 865.00,614.50 872.00,615.50 881.00,616.00 889.00,616.50 898.00,616.50 904.00,618.00 908.00,617.00 913.00,615.50" fill="none" stroke="#000000" stroke-width="1" stroke-dasharray="3 3"/>
<rect x="0" y="418" width="1040" height="1" fill="#000000"/>
<rect x="0" y="467" width="1040" height="1" fill="#000000"/>
<rect x="0" y="519" width="1040" height="1" fill="#000000"/>
<rect x="51" y="0" width="1" height="627" fill="#000000"/>
<rect x="988" y="0" width="1" height="627" fill="#000000"/>
<rect x="52" y="627" width="937" height="1" fill="#000000"/>
<rect x="52" y="644" width="937" height="1" fill="#000000"/>
<rect x="48" y="334" width="3" height="1" fill="#000000"/>
<rect x="989" y="334" width="4" height="1" fill="#000000"/>
<rect x="48" y="325" width="3" height="1" fill="#000000"/>
<rect x="989" y="325" width="4" height="1" fill="#000000"/>
<rect x="44" y="316" width="7" height="1" fill="#000000"/>
<rect x="989" y="316" width="8" height="1" fill="#000000"/>
<rect x="48" y="307" width="3" height="1" fill="#000000"/>
<rect x="989" y="307" width="4" height="1" fill="#000000"/>
<rect x="48" y="298" width="3" height="1" fill="#000000"/>
<rect x="989" y="298" width="4" height="1" fill="#000000"/>
<rect x="48" y="289" width="3" height="1" fill="#000000"/>
<rect x="989" y="289" width="4" height="1" fill="#000000"/>
<rect x="48" y="280" width="3" height="1" fill="#000000"/>
<rect x="989" y="280" width="4" height="1" fill="#000000"/>
<rect x="44" y="270" width="7" height="1" fill="#000000"/>
<rect x="989" y="270" width="8" height="1" fill="#000000"/>
<rect x="48" y="261" width="3" height="1" fill="#000000"/>
<rect x="989" y="261" width="4" height="1" fill="#000000"/>
<rect x="48" y="252" width="3" height="1" fill="#000000"/>
<rect x="989" y="252" width="4" height="1" fill="#000000"/>
<rect x="48" y="243" width="3" height="1" fill="#000000"/>
<rect x="989" y="243" width="4" height="1" fill="#000000"/>
<rect x="48" y="234" width="3" height="1" fill="#000000"/>
<rect x="989" y="234" width="4" height="1" fill="#000000"/>
<rect x="44" y="225" width="7" height="1" fill="#000000"/>
<rect x="989" y="225" width="8" height="1" fill="#000000"/>
<rect x="48" y="216" width="3" height="1" fill="#000000"/>
<rect x="989" y="216" width="4" height="1" fill="#000000"/>
<rect x="48" y="207" width="3" height="1" fill="#000000"/>
<rect x="989" y="207" width="4" height="1" fill="#000000"/>
<rect x="48" y="198" width="3" height="1" fill="#000000"/>
<rect x="989" y="198" width="4" height="1" fill="#000000"/>
<rect x="48" y="189" width="3" height="1" fill="#000000"/>
<rect x="989" y="189" width="4" height="1" fill="#000000"/>
<rect x="44" y="180" width="7" height="1" fill="#000000"/>
<rect x="989" y="180" width="8" height="1" fill="#000000"/>
<rect x="48" y="171" width="3" height="1" fill="#000000"/>
<rect x="989" y="171" width="4" height="1" fill="#000000"/>
<rect x="48" y="162" width="3" height="1" fill="#000000"/>
<rect x="989" y="162" width="4" height="1" fill="#000000"/>
<rect x="48" y="153" width="3" height="1" fill="#000000"/>
<rect x="989" y="153" width="4" height="1" fill="#000000"/>
<rect x="48" y="144" width="3" height="1" fill="#000000"/>
<rect x="989" y="144" width="4" height="1" fill="#000000"/>
<rect x="44" y="135" width="7" height="1" fill="#000000"/>
<rect x="989" y="135" width="8" height="1" fill="#000000"/>
<rect x="48" y="125" width="3" height="1" fill="#000000"/>
<rect x="989" y="125" width="4" height="1" fill="#000000"/>
<rect x="48" y="116" width="3" height="1" fill="#000000"/>
<rect x="989" y="116" width="4" height="1" fill="#000000"/>
<rect x="48" y="107" width="3" height="1" fill="#000000"/>
<rect x="989" y="107" width="4" height="1" fill="#000000"/>
<rect x="48" y="98" width="3" height="1" fill="#000000"/>
<rect x="989" y="98" width="4" height="1" fill="#000000"/>
<rect x="44" y="89" width="7" height="1" fill="#000000"/>
<rect x="989" y="89" width="8" height="1" fill="#000000"/>
<rect x="48" y="80" width="3" height="1" fill="#000000"/>
<rect x="989" y="80" width="4" height="1" fill="#000000"/>
<rect x="48" y="71" width="3" height="1" fill="#000000"/>
<rect x="989" y="71" width="4" height="1" fill="#000000"/>
<rect x="48" y="62" width="3" height="1" fill="#000000"/>
<rect x="989" y="62" width="4" height="1" fill="#000000"/>
<rect x="48" y="53" width="3" height="1" fill="#000000"/>
<rect x="989" y="53" width="4" height="1" fill="#000000"/>
<rect x="44" y="44" width="7" height="1" fill="#000000"/>
<rect x="989" y="44" width="8" height="1" fill="#000000"/>
<rect x="48" y="35" width="3" height="1" fill="#000000"/>
<rect x="989" y="35" width="4" height="1" fill="#000000"/>
<rect x="48" y="26" width="3" height="1" fill="#000000"/>
<rect x="989" y="26" width="4" height="1" fill="#000000"/>
<rect x="48" y="16" width="3" height="1" fill="#000000"/>
<rect x="989" y="16" width="4" height="1" fill="#000000"/>
<rect x="48" y="7" width="3" height="1" fill="#000000"/>
<rect x="989" y="7" width="4" height="1" fill="#000000"/>
<rect x="48" y="407" width="3" height="1" fill="#000000"/>
<rect x="989" y="407" width="4" height="1" fill="#000000"/>
<rect x="44" y="397" width="7" height="1" fill="#000000"/>
<rect x="989" y="397" width="8" height="1" fill="#000000"/>
<rect x="48" y="386" width="3" height="1" fill="#000000"/>
<rect x="989" y="386" width="4" height="1" fill="#000000"/>
<rect x="44" y="375" width="7" height="1" fill="#000000"/>
<rect x="989" y="375" width="8" height="1" fill="#000000"/>
<rect x="48" y="364" width="3" height="1" fill="#000000"/>
<rect x="989" y="364" width="4" height="1" fill="#000000"/>
<rect x="44" y="354" width="7" height="1" fill="#000000"/>
<rect x="989" y="354" width="8" height="1" fill="#000000"/>
<rect x="48" y="343" width="3" height="1" fill="#000000"/>
<rect x="989" y="343" width="4" height="1" fill="#000000"/>
<rect x="48" y="419" width="3" height="1" fill="#000000"/>
<rect x="989" y="419" width="4" height="1" fill="#000000"/>
<rect x="44" y="427" width="7" height="1" fill="#000000"/>
<rect x="989" y="427" width="8" height="1" fill="#000000"/>
<rect x="48" y="436" width="3" height="1" fill="#000000"/>
<rect x="989" y="436" width="4" height="1" fill="#000000"/>
<rect x="44" y="444" width="7" height="1" fill="#000000"/>
<rect x="989" y="444" width="8" height="1" fill="#000000"/>
<rect x="48" y="452" width="3" height="1" fill="#000000"/>
<rect x="989" y="452" width="4" height="1" fill="#000000"/>
<rect x="44" y="460" width="7" height="1" fill="#000000"/>
<rect x="989" y="460" width="8" height="1" fill="#000000"/>
<rect x="48" y="471" width="3" height="1" fill="#000000"/>
<rect x="989" y="471" width="4" height="1" fill="#000000"/>
<rect x="44" y="482" width="7" height="1" fill="#000000"/>
<rect x="989" y="482" width="8" height="1" fill="#000000"/>
<rect x="48" y="492" width="3" height="1" fill="#000000"/>
<rect x="989" y="492" width="4" height="1" fill="#000000"/>
<rect x="48" y="503" width="3" height="1" fill="#000000"/>
<rect x="989" y="503" width="4" height="1" fill="#000000"/>
<rect x="48" y="513" width="3" height="1" fill="#000000"/>
<rect x="989" y="513" width="4" height="1" fill="#000000"/>
<rect x="48" y="530" width="3" height="1" fill="#000000"/>
<rect x="989" y="530" width="4" height="1" fill="#000000"/>
<rect x="48" y="542" width="3" height="1" fill="#000000"/>
<rect x="989" y="542" width="4" height="1" fill="#000000"/>
<rect x="48" y="554" width="3" height="1" fill="#000000"/>
<rect x="989" y="554" width="4" height="1" fill="#000000"/>
<rect x="44" y="566" width="7" height="1" fill="#000000"/>
<rect x="989" y="566" width="8" height="1" fill="#000000"/>
<rect x="48" y="577" width="3" height="1" fill="#000000"/>
<rect x="989" y="577" width="4" height="1" fill="#000000"/>
<rect x="48" y="590" width="3" height="1" fill="#000000"/>
<rect x="989" y="590" width="4" height="1" fill="#000000"/>
<rect x="48" y="602" width="3" height="1" fill="#000000"/>
<rect x="989" y="602" width="4" height="1" fill="#000000"/>
<rect x="48" y="613" width="3" height="1" fill="#000000"/>
<rect x="989" y="613" width="4" height="1" fill="#000000"/>
<rect x="44" y="625" width="7" height="1" fill="#000000"/>
<rect x="989" y="625" width="8" height="1" fill="#000000"/>
<rect x="81" y="627" width="1" height="17" fill="#000000"/>
<rect x="125" y="627" width="1" height="17" fill="#000000"/>
<rect x="167" y="627" width="1" height="17" fill="#000000"/>
<rect x="210" y="627" width="1" height="17" fill="#000000"/>
<rect x="253" y="627" width="1" height="17" fill="#000000"/>
<rect x="296" y="627" width="1" height="17" fill="#000000"/>
<rect x="322" y="627" width="1" height="17" fill="#000000"/>
<rect x="357" y="627" width="1" height="17" fill="#000000"/>
<rect x="399" y="627" width="1" height="17" fill="#000000"/>
<rect x="434" y="627" width="1" height="17" fill="#000000"/>
<rect x="476" y="627" width="1" height="17" fill="#000000"/>
<rect x="520" y="627" width="1" height="17" fill="#000000"/>
<rect x="563" y="627" width="1" height="17" fill="#000000"/>
<rect x="605" y="627" width="1" height="17" fill="#000000"/>
<rect x="649" y="627" width="1" height="17" fill="#000000"/>
<rect x="674" y="627" width="1" height="17" fill="#000000"/>
<rect x="718" y="627" width="1" height="17" fill="#000000"/>
<rect x="760" y="627" width="1" height="17" fill="#000000"/>
<rect x="803" y="627" width="1" height="17" fill="#000000"/>
<rect x="837" y="627" width="1" height="17" fill="#000000"/>
<rect x="881" y="627" width="1" height="17" fill="#000000"/>
<rect x="915" y="627" width="1" height="17" fill="#000000"/>
<rect x="949" y="627" width="1" height="17" fill="#000000"/>
</g>
<text x="472.5" y="434" font-size="12" text-anchor="start" fill="#000" stroke="#000" stroke-width="0.2" textLength="95">MACD (-1.15763)</text>
<text x="428.5" y="483" font-size="12" text-anchor="start" fill="#000" stroke="#000" stroke-width="0.2" textLength="182.5">Relative Strength Index (57.2800)</text>
<text x="436" y="535" font-size="12" text-anchor="start" fill="#000" stroke="#000" stroke-width="0.2" textLength="169">Stochastic Oscillator (19.9571)</text>
<text x="39.2" y="50" font-size="12" text-anchor="end" fill="#000" stroke="#000" stroke-width="0.2" textLength="13.2">45</text>
<text x="1035.4" y="50" font-size="12" text-anchor="end" fill="#000" stroke="#000" stroke-width="0.2" textLength="13.2">45</text>
<text x="39.2" y="95" font-size="12" text-anchor="end" fill="#000" stroke="#000" stroke-width="0.2" textLength="13.2">40</text>
<text x="1035.4" y="95" font-size="12" text-anchor="end" fill="#000" stroke="#000" stroke-width="0.2" textLength="13.2">40</text>
<text x="39.2" y="141" font-size="12" text-anchor="end" fill="#000" stroke="#000" stroke-width="0.2" textLength="13.2">35</text>
<text x="1035.4" y="141" font-size="12" text-anchor="end" fill="#000" stroke="#000" stroke-width="0.2" textLength="13.2">35</text>
<text x="39.2" y="186" font-size="12" text-anchor="end" fill="#000" stroke="#000" stroke-width="0.2" textLength="13.2">30</text>
<text x="1035.4" y="186" font-size="12" text-anchor="end" fill="#000" stroke="#000" stroke-width="0.2" textLength="13.2">30</text>
<text x="39.2" y="231" font-size="12" text-anchor="end" fill="#000" stroke="#000" stroke-width="0.2" textLength="13.2">25</text>
<text x="1035.4" y="231" font-size="12" text-anchor="end" fill="#000" stroke="#000" stroke-width="0.2" textLength="13.2">25</text>
<text x="39.2" y="276" font-size="12" text-anchor="end" fill="#000" stroke="#000" stroke-width="0.2" textLength="13.2">20</text>
<text x="1035.4" y="276" font-size="12" text-anchor="end" fill="#000" stroke="#000" stroke-width="0.2" textLength="13.2">20</text>
<text x="39.2" y="322" font-size="12" text-anchor="end" fill="#000" stroke="#000" stroke-width="0.2" textLength="13.2">15</text>
<text x="1035.4" y="322" font-size="12" text-anchor="end" fill="#000" stroke="#000" stroke-width="0.2" textLength="13.2">15</text>
<text x="39.2" y="360" font-size="12" text-anchor="end" fill="#000" stroke="#000" stroke-width="0.2" textLength="34.2">30000</text>
<text x="1035.4" y="360" font-size="12" text-anchor="end" fill="#000" stroke="#000" stroke-width="0.2" textLength="34.2">30000</text>
<text x="39.2" y="381" font-size="12" text-anchor="end" fill="#000" stroke="#000" stroke-width="0.2" textLength="34.2">20000</text>
<text x="1035.4" y="381" font-size="12" text-anchor="end" fill="#000" stroke="#000" stroke-width="0.2" textLength="34.2">20000</text>
<text x="39.2" y="403" font-size="12" text-anchor="end" fill="#000" stroke="#000" stroke-width="0.2" textLength="34.2">10000</text>
<text x="1035.4" y="403" font-size="12" text-anchor="end" fill="#000" stroke="#000" stroke-width="0.2" textLength="34.2">10000</text>
<text x="39.2" y="433" font-size="12" text-anchor="end" fill="#000" stroke="#000" stroke-width="0.2" textLength="6.2">0</text>
<text x="1035.4" y="433" font-size="12" text-anchor="end" fill="#000" stroke="#000" stroke-width="0.2" textLength="6.2">0</text>
<text x="39.2" y="450" font-size="12" text-anchor="end" fill="#000" stroke="#000" stroke-width="0.2" textLength="10.2">-1</text>
<text x="1035.4" y="450" font-size="12" text-anchor="end" fill="#000" stroke="#000" stroke-width="0.2" textLength="10.2">-1</text>
<text x="39.2" y="466" font-size="12" text-anchor="end" fill="#000" stroke="#000" stroke-width="0.2" textLength="10.2">-2</text>
<text x="1035.4" y="466" font-size="12" text-anchor="end" fill="#000" stroke="#000" stroke-width="0.2" textLength="10.2">-2</text>
<text x="39.2" y="487" font-size="12" text-anchor="end" fill="#000" stroke="#000" stroke-width="0.2" textLength="13.2">50</text>
<text x="1035.4" y="487" font-size="12" text-anchor="end" fill="#000" stroke="#000" stroke-width="0.2" textLength="13.2">50</text>
<text x="39.2" y="572" font-size="12" text-anchor="end" fill="#000" stroke="#000" stroke-width="0.2" textLength="13.2">50</text>
<text x="1035.4" y="572" font-size="12" text-anchor="end" fill="#000" stroke="#000" stroke-width="0.2" textLength="13.2">50</text>
<rect x="2.5" y="406.5" width="29" height="12" fill="#fff" stroke="#000" stroke-width="1" shape-rendering="crispEdges"/>
<text x="4" y="415" font-size="9.33" text-anchor="start" fill="#000" stroke="#000" stroke-width="0.2">x1000</text>
<rect x="991.5" y="406.5" width="28" height="12" fill="#fff" stroke="#000" stroke-width="1" shape-rendering="crispEdges"/>
<text x="993" y="415" font-size="9.33" text-anchor="start" fill="#000" stroke="#000" stroke-width="0.2">x1000</text>
<clipPath id="cl"><rect x="52" y="620" width="936" height="39"/></clipPath>
<g clip-path="url(#cl)">
<text x="41.3" y="640" font-size="12" text-anchor="start" fill="#000" stroke="#000" stroke-width="0.2">15</text>
<text x="83.2" y="640" font-size="12" text-anchor="start" fill="#000" stroke="#000" stroke-width="0.2">22</text>
<text x="127.2" y="640" font-size="12" text-anchor="start" fill="#000" stroke="#000" stroke-width="0.2">29</text>
<text x="169.2" y="640" font-size="12" text-anchor="start" fill="#000" stroke="#000" stroke-width="0.2">6</text>
<text x="212.2" y="640" font-size="12" text-anchor="start" fill="#000" stroke="#000" stroke-width="0.2">13</text>
<text x="255.2" y="640" font-size="12" text-anchor="start" fill="#000" stroke="#000" stroke-width="0.2">20</text>
<text x="298.2" y="640" font-size="12" text-anchor="start" fill="#000" stroke="#000" stroke-width="0.2">27</text>
<text x="324.2" y="640" font-size="12" text-anchor="start" fill="#000" stroke="#000" stroke-width="0.2">4</text>
<text x="359.2" y="640" font-size="12" text-anchor="start" fill="#000" stroke="#000" stroke-width="0.2">10</text>
<text x="401.2" y="640" font-size="12" text-anchor="start" fill="#000" stroke="#000" stroke-width="0.2">17</text>
<text x="436.2" y="640" font-size="12" text-anchor="start" fill="#000" stroke="#000" stroke-width="0.2">24</text>
<text x="478.2" y="640" font-size="12" text-anchor="start" fill="#000" stroke="#000" stroke-width="0.2">31</text>
<text x="522.2" y="640" font-size="12" text-anchor="start" fill="#000" stroke="#000" stroke-width="0.2">7</text>
<text x="565.2" y="640" font-size="12" text-anchor="start" fill="#000" stroke="#000" stroke-width="0.2">14</text>
<text x="607.2" y="640" font-size="12" text-anchor="start" fill="#000" stroke="#000" stroke-width="0.2">21</text>
<text x="651.2" y="640" font-size="12" text-anchor="start" fill="#000" stroke="#000" stroke-width="0.2">28</text>
<text x="676.2" y="640" font-size="12" text-anchor="start" fill="#000" stroke="#000" stroke-width="0.2">5</text>
<text x="720.2" y="640" font-size="12" text-anchor="start" fill="#000" stroke="#000" stroke-width="0.2">12</text>
<text x="762.2" y="640" font-size="12" text-anchor="start" fill="#000" stroke="#000" stroke-width="0.2">19</text>
<text x="805.2" y="640" font-size="12" text-anchor="start" fill="#000" stroke="#000" stroke-width="0.2">26</text>
<text x="839.2" y="640" font-size="12" text-anchor="start" fill="#000" stroke="#000" stroke-width="0.2">2</text>
<text x="883.2" y="640" font-size="12" text-anchor="start" fill="#000" stroke="#000" stroke-width="0.2">9</text>
<text x="917.2" y="640" font-size="12" text-anchor="start" fill="#000" stroke="#000" stroke-width="0.2">15</text>
<text x="951.2" y="640" font-size="12" text-anchor="start" fill="#000" stroke="#000" stroke-width="0.2">21</text>
<text x="144" y="657" font-size="12" text-anchor="start" fill="#000" stroke="#000" stroke-width="0.2" textLength="20.5">July</text>
<text x="324" y="657" font-size="12" text-anchor="start" fill="#000" stroke="#000" stroke-width="0.2" textLength="39">August</text>
<text x="488" y="657" font-size="12" text-anchor="start" fill="#000" stroke="#000" stroke-width="0.2" textLength="60.5">September</text>
<text x="668" y="657" font-size="12" text-anchor="start" fill="#000" stroke="#000" stroke-width="0.2" textLength="44">October</text>
<text x="831" y="657" font-size="12" text-anchor="start" fill="#000" stroke="#000" stroke-width="0.2" textLength="57.5">November</text>
<text x="917" y="657" font-size="12" text-anchor="start" fill="#000" stroke="#000" stroke-width="0.2" textLength="58.5">December</text>
</g>
<g shape-rendering="crispEdges">
<rect x="142" y="627" width="1" height="32" fill="#000000"/>
<rect x="322" y="627" width="1" height="32" fill="#000000"/>
<rect x="486" y="627" width="1" height="32" fill="#000000"/>
<rect x="666" y="627" width="1" height="32" fill="#000000"/>
<rect x="829" y="627" width="1" height="32" fill="#000000"/>
<rect x="915" y="627" width="1" height="32" fill="#000000"/>
</g>
<text x="368" y="15" font-size="10.5" fill="#000" textLength="34" lengthAdjust="spacingAndGlyphs" font-family="'Liberation Sans','DejaVu Sans',sans-serif">ايفا فنادق</text>
<text x="405.8" y="15" font-size="12" text-anchor="start" fill="#000" stroke="#000" stroke-width="0.2" textLength="267">(17.7000, 24.5000, 17.7000, 22.3000, +6.20000)</text>
<defs><linearGradient id="gg" x1="0" y1="0" x2="0" y2="1"><stop offset="0.2" stop-color="#eeeeee"/><stop offset="0.6" stop-color="#dcdcdc"/><stop offset="0.72" stop-color="#d4d4d4" stop-opacity="0.9"/><stop offset="0.82" stop-color="#c4c4c4" stop-opacity="0.45"/></linearGradient><linearGradient id="gx" x1="0" y1="0" x2="0" y2="1"><stop offset="0.3" stop-color="#f0d4d4"/><stop offset="0.55" stop-color="#efd8d8"/><stop offset="0.6" stop-color="#d6e8d6"/><stop offset="0.82" stop-color="#c0d8c0" stop-opacity="0.5"/></linearGradient><linearGradient id="gc" x1="0" y1="0" x2="0" y2="1"><stop offset="0" stop-color="#ececec"/><stop offset="1" stop-color="#e2e2e2"/></linearGradient></defs>
<defs><filter id="halo" filterUnits="userSpaceOnUse" x="40" y="405" width="360" height="105"><feMorphology in="SourceAlpha" operator="dilate" radius="1.2" result="d"/><feGaussianBlur in="d" stdDeviation="0.6" result="b"/><feComponentTransfer in="b" result="b2"><feFuncA type="linear" slope="2.5" intercept="0"/></feComponentTransfer><feFlood flood-color="#fff"/><feComposite in2="b2" operator="in" result="h"/><feMerge><feMergeNode in="h"/><feMergeNode in="SourceGraphic"/></feMerge></filter></defs>
<g filter="url(#halo)">
<text transform="scale(1.14,1)" x="42.48 66.82 90.20 116.66 141.69 167.01 202.09 210.81 235.84" y="452.2" font-size="45.5" fill="#fbd5c0" stroke="#fbd5c0" stroke-width="1.0">economies</text>
<text transform="scale(1.1,1)" x="266.40 274.34 295.38 322.30" y="451.6" font-size="45" fill="url(#gc)" stroke="none" stroke-width="0">.com</text>
<text y="491.2" font-size="44" font-weight="bold" fill="url(#gg)"><tspan x="87.16" textLength="22.79" lengthAdjust="spacingAndGlyphs">F</tspan><tspan x="111.90" textLength="23.36" lengthAdjust="spacingAndGlyphs" fill="url(#gx)">x</tspan><tspan x="134.55" textLength="35.51" lengthAdjust="spacingAndGlyphs">N</tspan><tspan x="168.50" textLength="20.47" lengthAdjust="spacingAndGlyphs">e</tspan><tspan x="188.39" textLength="30.13" lengthAdjust="spacingAndGlyphs">w</tspan><tspan x="217.96" textLength="19.30" lengthAdjust="spacingAndGlyphs">s</tspan><tspan x="235.58" textLength="25.76" lengthAdjust="spacingAndGlyphs">T</tspan><tspan x="260.72" textLength="23.99" lengthAdjust="spacingAndGlyphs">o</tspan><tspan x="282.83" textLength="22.40" lengthAdjust="spacingAndGlyphs">d</tspan><tspan x="306.10" textLength="17.95" lengthAdjust="spacingAndGlyphs">a</tspan><tspan x="325.00" textLength="20.86" lengthAdjust="spacingAndGlyphs">y</tspan></text>
</g>
</svg>
</body></html>
